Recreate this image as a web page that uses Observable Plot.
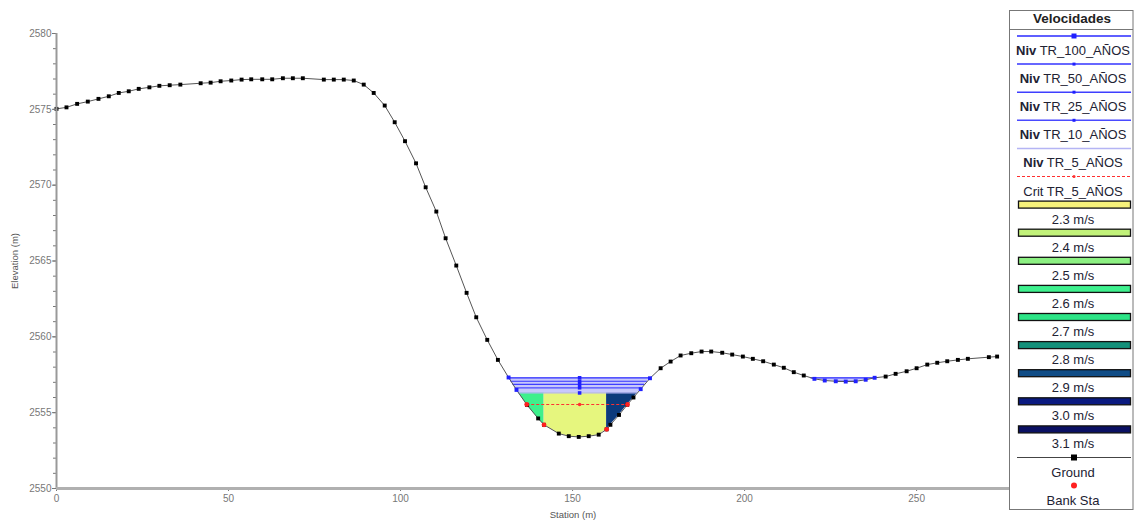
<!DOCTYPE html>
<html><head><meta charset="utf-8">
<script src="https://cdn.jsdelivr.net/npm/d3@7"></script>
<script src="https://cdn.jsdelivr.net/npm/@observablehq/plot@0.6"></script>
<style>
body{margin:0;background:#fff;font-family:"Liberation Sans",Arial,sans-serif;}
#wrap{position:relative;width:1134px;height:520px;overflow:hidden;}
#chart{position:absolute;left:0;top:0;}
#legend{position:absolute;left:1009px;top:0;}
</style></head><body>
<div id="wrap"><div id="chart"></div><div id="legend"></div></div>
<script>
// ---- data ----
const stations = [0, 2.9, 6.0, 9.1, 12.2, 15.2, 18.1, 21.0, 23.9, 27.0, 29.9, 32.9, 36.0, 41.9, 44.8, 47.7, 50.8, 53.8, 56.6, 59.8, 62.7, 65.8, 68.7, 71.6, 77.7, 80.6, 83.5, 86.4, 89.3, 92.2, 95.4, 98.3, 101.3, 104.5, 107.3, 110.4, 113.1, 116.2, 119.2, 122.0, 125.2, 128.3, 131.4, 133.7, 136.8, 140.0, 141.7, 146.0, 148.9, 151.8, 154.7, 157.6, 159.9, 161.0, 163.5, 165.9, 167.7, 169.8, 172.5, 175.6, 178.5, 181.4, 184.5, 187.5, 190.3, 193.5, 196.4, 199.5, 202.4, 205.4, 208.5, 211.4, 214.3, 217.2, 220.3, 223.3, 226.5, 229.4, 232.3, 235.2, 237.8, 241.0, 243.9, 247.1, 250.0, 253.1, 256.0, 258.9, 262.0, 264.9, 271.0, 273.4];
const elevations = [2575.03, 2575.13, 2575.36, 2575.51, 2575.69, 2575.86, 2576.08, 2576.19, 2576.35, 2576.45, 2576.55, 2576.59, 2576.63, 2576.72, 2576.76, 2576.85, 2576.90, 2576.96, 2576.98, 2576.98, 2576.98, 2577.05, 2577.05, 2577.05, 2576.96, 2576.96, 2576.96, 2576.90, 2576.63, 2576.08, 2575.25, 2574.15, 2572.90, 2571.44, 2569.86, 2568.26, 2566.50, 2564.70, 2562.90, 2561.29, 2559.80, 2558.48, 2557.32, 2556.50, 2555.50, 2554.62, 2554.20, 2553.62, 2553.45, 2553.40, 2553.45, 2553.55, 2553.90, 2554.20, 2554.85, 2555.52, 2556.00, 2556.55, 2557.27, 2557.93, 2558.37, 2558.77, 2558.92, 2559.03, 2559.03, 2558.95, 2558.83, 2558.70, 2558.55, 2558.39, 2558.17, 2557.96, 2557.67, 2557.45, 2557.23, 2557.12, 2557.07, 2557.05, 2557.07, 2557.17, 2557.30, 2557.38, 2557.56, 2557.73, 2557.93, 2558.17, 2558.29, 2558.39, 2558.48, 2558.55, 2558.66, 2558.70];
const wsNames = ["TR_100_AÑOS", "TR_50_AÑOS", "TR_25_AÑOS", "TR_10_AÑOS", "TR_5_AÑOS"];
const wsElev = [2557.30, 2557.07, 2556.86, 2556.64, 2556.30];
const critName = "TR_5_AÑOS";
const critElev = 2555.54;
const bankStations = [141.7, 159.9];
const velLabels = ["2.3 m/s", "2.4 m/s", "2.5 m/s", "2.6 m/s", "2.7 m/s", "2.8 m/s", "2.9 m/s", "3.0 m/s", "3.1 m/s"];
const xTicks = [0, 50, 100, 150, 200, 250];
const yTicks = [2550, 2555, 2560, 2565, 2570, 2575, 2580];

// ---- styles ----
const velColors = ["#f6f27a", "#c2f27a", "#8cf082", "#3ef08e", "#2ce486", "#12907a", "#0f4c86", "#0a1a80", "#0a1062"];
const subColors = ["#3ef08c", "#e6f67e", "#0c3a7c"];
const wsColors = ["#2a2aff", "#3535ff", "#3f3fff", "#4a4aff", "#b4b4f4"];

// ---- geometry helpers (derived from data) ----
const ground = stations.map((x, i) => ({x, y: elevations[i]}));
function gAt(x) {
  for (let i = 0; i < ground.length - 1; i++) {
    const a = ground[i], b = ground[i + 1];
    if (x >= a.x && x <= b.x) return a.y + (b.y - a.y) * (x - a.x) / (b.x - a.x);
  }
  return NaN;
}
function wetSegments(L) {
  const segs = []; let start = null;
  for (let i = 0; i < ground.length - 1; i++) {
    const a = ground[i], b = ground[i + 1];
    if (a.y >= L && b.y < L) start = a.x + (L - a.y) / (b.y - a.y) * (b.x - a.x);
    else if (a.y < L && b.y >= L && start !== null) {
      segs.push([start, a.x + (L - a.y) / (b.y - a.y) * (b.x - a.x)]); start = null;
    }
  }
  return segs;
}
function polyBetween(x0, x1, L, extra) {
  const pts = [{x: x0, g: gAt(x0), L, ...extra}];
  ground.forEach(p => { if (p.x > x0 && p.x < x1) pts.push({x: p.x, g: p.y, L, ...extra}); });
  pts.push({x: x1, g: gAt(x1), L, ...extra});
  return pts;
}

const bandPts = wetSegments(wsElev[0]).flatMap((s, si) => polyBetween(s[0], s[1], wsElev[0], {seg: si}));
const tr5 = wetSegments(wsElev[4])[0];
const cuts = [tr5[0], ...bankStations, tr5[1]];
const velPts = [0, 1, 2].map(j => polyBetween(cuts[j], cuts[j + 1], wsElev[4], {sub: j}));
const wsSegs = wsElev.map((L, k) => wetSegments(L).map(([a, b]) => ({k, L, x1: a, x2: b})));
const critSegs = wetSegments(critElev).map(([a, b]) => ({L: critElev, x1: a, x2: b}));
const mainSeg = wetSegments(wsElev[0])[0];
const midX = (mainSeg[0] + mainSeg[1]) / 2;
const wsMarks = wsElev.map(L => ({x: midX, y: L}));
const wetGround = ground.filter(p => p.y >= wsElev[4] && p.y <= wsElev[0] + 0.02);
const dryGround = ground.filter(p => !(p.y >= wsElev[4] && p.y <= wsElev[0] + 0.02));
const redPts = [...bankStations.map(x => ({x, y: gAt(x)})), ...critSegs.flatMap(s => [{x: s.x1, y: critElev}, {x: s.x2, y: critElev}])];

const chart = Plot.plot({
  width: 1009, height: 520,
  marginLeft: 56, marginRight: 0, marginTop: 33, marginBottom: 32,
  x: {domain: [0, 277]},
  y: {domain: [2550, 2580]},
  style: {fontFamily: "'Liberation Sans', Arial, sans-serif", fontSize: "10px", color: "#777", background: "#fff"},
  marks: [
    Plot.areaY(bandPts, {x: "x", y1: "g", y2: "L", z: "seg", fill: "#c8c8fb"}),
    ...velPts.map((pts, j) => Plot.areaY(pts, {x: "x", y1: "g", y2: "L", fill: subColors[j]})),
    ...wsSegs.map((segs, k) => Plot.ruleY(segs, {y: "L", x1: "x1", x2: "x2", stroke: wsColors[k], strokeWidth: 1.2})),
    Plot.ruleY(critSegs, {y: "L", x1: "x1", x2: "x2", stroke: "#ff3030", strokeWidth: 1.2, strokeDasharray: "3,2"}),
    Plot.dot(wsMarks, {x: "x", y: "y", symbol: "square", r: 2, fill: "#2020ff"}),
    Plot.dot([{x: midX, y: critElev}], {x: "x", y: "y", r: 1.8, fill: "#ff3030"}),
    Plot.line(ground, {x: "x", y: "y", stroke: "#555", strokeWidth: 1}),
    Plot.dot(dryGround, {x: "x", y: "y", symbol: "square", r: 2.2, fill: "#000"}),
    Plot.dot(wetGround, {x: "x", y: "y", symbol: "square", r: 2.2, fill: "#2020ff"}),
    Plot.dot(redPts, {x: "x", y: "y", r: 2.4, fill: "#ff2020"}),
    Plot.axisY({ticks: d3.range(2550, 2581), tickSize: 3, tickFormat: () => "", label: null}),
    Plot.axisY({ticks: yTicks, tickSize: 4, tickPadding: 1, tickFormat: d3.format("d"), label: null}),
    Plot.axisX({ticks: d3.range(0, 277, 10), tickSize: 2, tickFormat: () => "", label: null}),
    Plot.axisX({ticks: xTicks, tickSize: 3, tickPadding: 3, tickFormat: d3.format("d"), label: null}),
    Plot.ruleX([0], {stroke: "#999", strokeWidth: 2}),
    Plot.ruleY([2550], {stroke: "#b0b0b0", strokeWidth: 3}),
    Plot.text(["Elevation (m)"], {frameAnchor: "left", dx: -42, rotate: -90, textAnchor: "middle", lineAnchor: "middle", fontSize: 9.5, fill: "#555"}),
    Plot.text(["Station (m)"], {frameAnchor: "bottom", dx: 40, dy: 26, textAnchor: "middle", lineAnchor: "middle", fontSize: 9.5, fill: "#555"})
  ]
});
document.getElementById("chart").appendChild(chart);

// ---- legend ----
const leg = d3.select("#legend").append("svg").attr("width", 125).attr("height", 520)
  .style("font-family", "'Liberation Sans', Arial, sans-serif");
leg.append("rect").attr("x", 0.5).attr("y", 10.5).attr("width", 123.5).attr("height", 499)
  .attr("fill", "#fff").attr("stroke", "#777");
leg.append("text").attr("x", 63).attr("y", 23).attr("text-anchor", "middle")
  .attr("font-weight", "bold").attr("font-size", 13.5).attr("fill", "#222").text("Velocidades");
leg.append("line").attr("x1", 0).attr("x2", 124).attr("y1", 29.5).attr("y2", 29.5).attr("stroke", "#777");
const step = 28.1, y0 = 36;
let idx = 0;
const label = (y, parts) => {
  const t = leg.append("text").attr("x", 64).attr("y", y + 19).attr("text-anchor", "middle")
    .attr("font-size", 13).attr("fill", "#223");
  parts.forEach(([s, bold]) => t.append("tspan").attr("font-weight", bold ? "bold" : null).text(s));
};
wsNames.forEach((n, k) => {
  const y = y0 + step * idx++;
  leg.append("line").attr("x1", 8).attr("x2", 122).attr("y1", y).attr("y2", y).attr("stroke", wsColors[k]).attr("stroke-width", 1.5);
  if (k < 4) leg.append("rect").attr("x", 65 - (k === 0 ? 2.5 : 1.5)).attr("y", y - (k === 0 ? 2.5 : 1.5))
    .attr("width", k === 0 ? 5 : 3).attr("height", k === 0 ? 5 : 3).attr("fill", "#2020ff");
  label(y, [["Niv", true], [" " + n, false]]);
});
{
  const y = y0 + step * idx++;
  leg.append("line").attr("x1", 8).attr("x2", 122).attr("y1", y).attr("y2", y).attr("stroke", "#ff3030")
    .attr("stroke-width", 1.2).attr("stroke-dasharray", "3,2");
  leg.append("circle").attr("cx", 65).attr("cy", y).attr("r", 1.5).attr("fill", "#ff3030");
  label(y, [["Crit " + critName, false]]);
}
velLabels.forEach((v, k) => {
  const y = y0 + step * idx++;
  leg.append("rect").attr("x", 9.5).attr("y", y - 3.5).attr("width", 112).attr("height", 7)
    .attr("fill", velColors[k]).attr("stroke", "#111").attr("stroke-width", 1.3);
  label(y, [[v, false]]);
});
{
  const y = y0 + step * idx++;
  leg.append("line").attr("x1", 8).attr("x2", 122).attr("y1", y).attr("y2", y).attr("stroke", "#444");
  leg.append("rect").attr("x", 62).attr("y", y - 3).attr("width", 6).attr("height", 6).attr("fill", "#000");
  label(y, [["Ground", false]]);
}
{
  const y = y0 + step * idx++;
  leg.append("circle").attr("cx", 65).attr("cy", y).attr("r", 3).attr("fill", "#ff2020");
  label(y, [["Bank Sta", false]]);
}
</script>
</body></html>
